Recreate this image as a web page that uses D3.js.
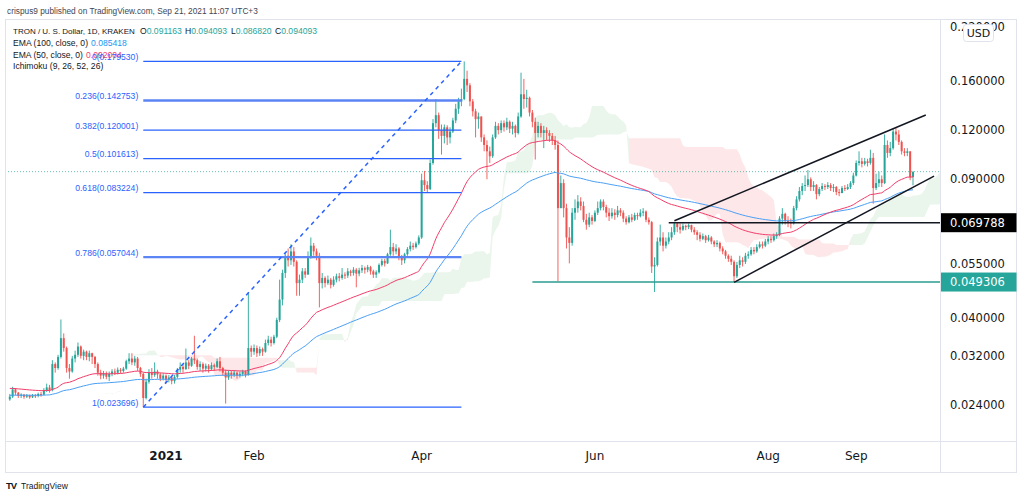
<!DOCTYPE html>
<html>
<head>
<meta charset="utf-8">
<script src="https://cdn.jsdelivr.net/npm/d3@7"></script>
<style>
  body { margin: 0; background: #fff; }
  svg { display: block; font-family: "Liberation Sans", Arial, sans-serif; }
</style>
</head>
<body>
<svg id="chart" width="1024" height="497"></svg>
<script>
// TRX/USD daily candles, Kraken, 7 Nov 2020 -> 21 Sep 2021
const startDay = Date.UTC(2020, 10, 7);
const firstOpen = 0.0248;

const closes = [
  .0252,.0263,.0258,.0253,.0255,.0252,.0254,.0251,.0254,.0253,
  .0256,.0255,.0262,.0266,.0262,.0305,.0298,.0318,.0355,.0335,
  .0298,.0292,.0315,.0322,.0338,.0320,.0328,.0318,.0325,.0318,
  .0305,.0290,.0285,.0289,.0283,.0288,.0292,.0290,.0295,.0293,
  .0297,.0310,.0315,.0308,.0315,.0298,.0288,.0250,.0275,.0290,
  .0286,.0292,.0287,.0280,.0285,.0278,.0282,.0276,.0283,.0295,
  .0300,.0296,.0308,.0302,.0315,.0312,.0300,.0305,.0297,.0302,
  .0296,.0303,.0300,.0310,.0298,.0290,.0282,.0290,.0286,.0290,
  .0285,.0288,.0292,.0286,.0335,.0328,.0335,.0325,.0333,.0328,
  .0345,.0352,.0345,.0358,.0395,.0445,.0520,.0575,.0560,.0590,
  .0555,.0490,.0500,.0525,.0515,.0570,.0610,.0590,.0575,.0490,
  .0505,.0490,.0500,.0485,.0500,.0510,.0505,.0515,.0512,.0525,
  .0520,.0530,.0518,.0528,.0535,.0530,.0538,.0525,.0515,.0522,
  .0545,.0558,.0550,.0580,.0605,.0590,.0600,.0570,.0560,.0580,
  .0598,.0610,.0605,.0618,.0640,.0895,.0870,.0850,.0990,.1250,
  .1310,.1200,.1160,.1220,.1150,.1190,.1270,.1360,.1420,.1440,
  .1620,.1560,.1420,.1340,.1280,.1300,.1150,.1100,.1060,.1030,
  .1150,.1230,.1200,.1250,.1220,.1260,.1210,.1230,.1180,.1300,
  .1480,.1440,.1450,.1330,.1260,.1180,.1230,.1180,.1200,.1180,
  .1160,.1130,.1100,.0760,.0880,.0760,.0640,.0620,.0740,.0760,
  .0790,.0770,.0710,.0690,.0720,.0705,.0740,.0760,.0790,.0765,
  .0740,.0725,.0740,.0730,.0750,.0740,.0715,.0700,.0720,.0710,
  .0730,.0725,.0740,.0745,.0710,.0700,.0540,.0545,.0625,.0640,
  .0610,.0625,.0640,.0660,.0695,.0680,.0670,.0685,.0680,.0688,
  .0670,.0660,.0650,.0635,.0645,.0630,.0640,.0625,.0615,.0620,
  .0600,.0590,.0575,.0565,.0555,.0510,.0545,.0560,.0555,.0575,
  .0580,.0595,.0590,.0605,.0615,.0610,.0625,.0635,.0630,.0645,
  .0650,.0715,.0735,.0705,.0700,.0695,.0760,.0800,.0840,.0865,
  .0870,.0900,.0860,.0870,.0825,.0850,.0865,.0860,.0870,.0855,
  .0860,.0835,.0830,.0855,.0850,.0860,.0880,.0920,.0990,.1000,
  .0985,.1000,.0990,.1020,.0855,.0880,.0900,.0880,.1100,.1050,
  .1080,.1190,.1170,.1120,.1060,.1050,.1060,.091163,.094093
];

const highs = [
  .0256,.0267,.0265,.0259,.0257,.0256,.0256,.0255,.0256,.0256,
  .0258,.0259,.0265,.0272,.0270,.0312,.0308,.0322,.0396,.0365,
  .0338,.0305,.0320,.0330,.0346,.0340,.0332,.0330,.0330,.0326,
  .0320,.0308,.0295,.0293,.0292,.0292,.0296,.0297,.0299,.0298,
  .0300,.0313,.0325,.0325,.0320,.0318,.0300,.0290,.0280,.0296,
  .0298,.0308,.0295,.0290,.0289,.0287,.0286,.0284,.0286,.0298,
  .0308,.0305,.0334,.0312,.0318,.0360,.0315,.0310,.0308,.0306,
  .0305,.0308,.0306,.0315,.0318,.0300,.0295,.0294,.0293,.0294,
  .0292,.0292,.0295,.0294,.0465,.0340,.0342,.0340,.0338,.0336,
  .0352,.0360,.0358,.0362,.0400,.0500,.0530,.0585,.0600,.0615,
  .0605,.0560,.0515,.0535,.0535,.0590,.0640,.0620,.0600,.0585,
  .0520,.0510,.0512,.0505,.0510,.0518,.0520,.0535,.0522,.0535,
  .0530,.0538,.0535,.0536,.0545,.0540,.0545,.0542,.0530,.0528,
  .0550,.0565,.0565,.0585,.0670,.0620,.0615,.0605,.0578,.0585,
  .0605,.0625,.0620,.0625,.0648,.0930,.0945,.0890,.1010,.1280,
  .1440,.1330,.1240,.1240,.1235,.1220,.1290,.1400,.1450,.1530,
  .1795,.1700,.1580,.1440,.1360,.1330,.1300,.1170,.1130,.1090,
  .1170,.1260,.1250,.1270,.1270,.1290,.1270,.1260,.1240,.1330,
  .1680,.1620,.1520,.1460,.1350,.1290,.1260,.1250,.1230,.1220,
  .1200,.1180,.1160,.1130,.0920,.0900,.0780,.0680,.0760,.0800,
  .0820,.0810,.0790,.0735,.0740,.0730,.0750,.0790,.0800,.0800,
  .0775,.0760,.0760,.0755,.0770,.0760,.0750,.0725,.0730,.0735,
  .0740,.0740,.0755,.0760,.0750,.0720,.0705,.0570,.0640,.0690,
  .0660,.0640,.0660,.0680,.0698,.0698,.0695,.0695,.0690,.0695,
  .0690,.0680,.0668,.0660,.0655,.0650,.0650,.0645,.0630,.0630,
  .0625,.0608,.0595,.0580,.0575,.0560,.0555,.0575,.0570,.0585,
  .0590,.0605,.0605,.0615,.0625,.0625,.0635,.0645,.0645,.0655,
  .0660,.0725,.0760,.0740,.0725,.0715,.0770,.0815,.0860,.0880,
  .0920,.0950,.0910,.0890,.0875,.0860,.0880,.0875,.0885,.0880,
  .0875,.0865,.0850,.0865,.0870,.0875,.0890,.0935,.1005,.1060,
  .1020,.1020,.1015,.1070,.1050,.0930,.0940,.0920,.1170,.1130,
  .1120,.1210,.1215,.1200,.1130,.1080,.1080,.1060,.094093
];

const lows = [
  .0246,.0250,.0254,.0250,.0250,.0249,.0250,.0249,.0250,.0250,
  .0251,.0252,.0254,.0259,.0258,.0260,.0290,.0295,.0315,.0328,
  .0290,.0280,.0290,.0308,.0318,.0315,.0312,.0312,.0310,.0305,
  .0298,.0285,.0279,.0280,.0279,.0276,.0284,.0286,.0287,.0289,
  .0290,.0295,.0305,.0303,.0302,.0293,.0283,.0237,.0248,.0272,
  .0280,.0283,.0280,.0276,.0277,.0272,.0274,.0271,.0272,.0280,
  .0290,.0290,.0295,.0296,.0300,.0305,.0295,.0293,.0290,.0292,
  .0290,.0293,.0293,.0298,.0292,.0285,.0242,.0278,.0280,.0283,
  .0280,.0282,.0284,.0282,.0285,.0318,.0322,.0318,.0320,.0320,
  .0326,.0340,.0338,.0342,.0355,.0390,.0430,.0505,.0540,.0545,
  .0540,.0455,.0455,.0490,.0505,.0515,.0565,.0575,.0560,.0425,
  .0475,.0478,.0485,.0475,.0480,.0492,.0495,.0500,.0502,.0505,
  .0510,.0512,.0478,.0510,.0520,.0518,.0522,.0515,.0505,.0505,
  .0518,.0540,.0540,.0548,.0575,.0575,.0580,.0560,.0545,.0550,
  .0575,.0590,.0595,.0600,.0612,.0635,.0840,.0830,.0845,.0980,
  .1220,.1140,.1040,.1110,.1100,.1110,.1180,.1250,.1320,.1380,
  .1430,.1500,.1380,.1300,.1150,.1210,.1120,.1060,.0900,.0990,
  .1020,.1140,.1170,.1180,.1190,.1200,.1180,.1170,.1150,.1170,
  .1290,.1360,.1370,.1300,.1220,.1010,.1150,.1150,.1080,.1130,
  .1120,.1100,.1070,.0495,.0760,.0720,.0600,.0550,.0610,.0710,
  .0740,.0750,.0700,.0670,.0680,.0690,.0700,.0730,.0750,.0750,
  .0720,.0705,.0715,.0710,.0720,.0725,.0700,.0690,.0695,.0700,
  .0705,.0710,.0720,.0725,.0700,.0690,.0520,.0465,.0540,.0610,
  .0590,.0600,.0615,.0630,.0650,.0660,.0655,.0665,.0668,.0672,
  .0660,.0650,.0630,.0625,.0630,.0620,.0625,.0615,.0605,.0605,
  .0590,.0580,.0565,.0555,.0545,.0493,.0505,.0535,.0540,.0548,
  .0565,.0575,.0580,.0585,.0600,.0600,.0605,.0615,.0620,.0625,
  .0635,.0645,.0690,.0690,.0680,.0675,.0690,.0750,.0790,.0820,
  .0840,.0860,.0840,.0840,.0800,.0815,.0840,.0845,.0850,.0840,
  .0835,.0820,.0815,.0830,.0840,.0845,.0850,.0870,.0915,.0975,
  .0965,.0975,.0970,.0980,.0780,.0845,.0860,.0860,.0875,.1020,
  .1030,.1070,.1130,.1100,.1040,.1030,.1030,.0895,.086820
];

// EMA starting values at the left edge
const ema50Start = 0.0265;
const ema100Start = 0.0254;

// Fibonacci retracement drawn on the chart
const fibRatios = ["0", "0.236", "0.382", "0.5", "0.618", "0.786", "1"];
const fibPrices = [0.179530, 0.142753, 0.120001, 0.101613, 0.083224, 0.057044, 0.023696];
const fibFrom = Date.UTC(2020, 11, 24);
const fibTo = Date.UTC(2021, 3, 15);

// other drawings: [startDate, price]
const supportLevel = [Date.UTC(2021, 4, 10), 0.049306];
const resistLevel = [Date.UTC(2021, 5, 27), 0.069788];
const channelTop = [[Date.UTC(2021, 5, 29), 0.0706], [Date.UTC(2021, 8, 25, 12), 0.1311]];
const channelBottom = [[Date.UTC(2021, 6, 20), 0.04923], [Date.UTC(2021, 8, 28, 10), 0.0917]];

const priceTicks = [0.024, 0.032, 0.040, 0.055, 0.090, 0.120, 0.160, 0.220];
const monthTicks = [
  [Date.UTC(2021, 0, 1), "2021"], [Date.UTC(2021, 1, 1), "Feb"], [Date.UTC(2021, 3, 1), "Apr"],
  [Date.UTC(2021, 5, 1), "Jun"], [Date.UTC(2021, 7, 1), "Aug"], [Date.UTC(2021, 8, 1), "Sep"]
];

const legendOHLC = ["0.091163", "0.094093", "0.086820", "0.094093"];
const legendEma100 = "0.085418";
const legendEma50 = "0.092004";

// ---- layout ----
const DAY = 864e5;
const pane = { left: 5, right: 940, top: 19, bottom: 441, axisRight: 1016, axisBottom: 472 };
const UP = "#26a69a", DOWN = "#ef5350", FIB = "#2962ff";

const svg = d3.select("#chart");

const x = d3.scaleUtc()
  .domain([new Date(Date.UTC(2021, 0, 1)), new Date(Date.UTC(2021, 8, 21))])
  .range([166, 913]);
const y = d3.scaleLog().domain([0.024, 0.16]).range([405, 81]);

const N = closes.length;
const dates = d3.range(N).map(i => new Date(startDay + i * DAY));
const opens = closes.map((c, i) => i === 0 ? firstOpen : closes[i - 1]);
opens[N - 1] = +legendOHLC[0];

// shrink a text so it is no wider than maxW
function fitWidth(sel, maxW) {
  const w = sel.node().getComputedTextLength();
  if (w > maxW) sel.attr("font-size", parseFloat(sel.attr("font-size")) * maxW / w);
  return sel;
}

// caption
fitWidth(svg.append("text").attr("x", 7).attr("y", 14)
  .attr("font-size", 8.6).attr("fill", "#434651")
  .text("crispus9 published on TradingView.com, Sep 21, 2021 11:07 UTC+3"), 251);

// pane frame
svg.append("rect")
  .attr("x", pane.left + 0.5).attr("y", pane.top + 0.5)
  .attr("width", pane.axisRight - pane.left).attr("height", pane.axisBottom - pane.top)
  .attr("fill", "#fff").attr("stroke", "#e0e3eb");
svg.append("line").attr("x1", pane.right + 0.5).attr("x2", pane.right + 0.5)
  .attr("y1", pane.top).attr("y2", pane.axisBottom).attr("stroke", "#e0e3eb");
svg.append("line").attr("x1", pane.left).attr("x2", pane.axisRight)
  .attr("y1", pane.bottom + 0.5).attr("y2", pane.bottom + 0.5).attr("stroke", "#e0e3eb");

svg.append("clipPath").attr("id", "plotClip").append("rect")
  .attr("x", pane.left + 1).attr("y", pane.top + 1)
  .attr("width", pane.right - pane.left - 1).attr("height", pane.bottom - pane.top - 1);

const plot = svg.append("g").attr("clip-path", "url(#plotClip)");

// ---- Ichimoku cloud (9, 26, 52, 26) ----
function midRange(i, n) {
  const s = Math.max(0, i - n + 1);
  return (d3.max(highs.slice(s, i + 1)) + d3.min(lows.slice(s, i + 1))) / 2;
}
const shift = 25;
const cloud = d3.range(N).map(i => {
  const tenkan = midRange(i, 9), kijun = midRange(i, 26);
  return { date: new Date(startDay + (i + shift) * DAY), a: (tenkan + kijun) / 2, b: midRange(i, 52) };
});
// split into runs of the same colour
const runs = [];
let run = [cloud[0]];
for (let i = 1; i < cloud.length; i++) {
  const up = cloud[i - 1].a >= cloud[i - 1].b;
  const upNow = cloud[i].a >= cloud[i].b;
  run.push(cloud[i]);
  if (up !== upNow) {
    runs.push({ up, pts: run });
    run = [cloud[i]];
  }
}
runs.push({ up: run[0].a >= run[0].b, pts: run });

const cloudArea = d3.area()
  .x(d => x(d.date)).y0(d => y(d.a)).y1(d => y(d.b));
plot.append("g").selectAll("path").data(runs).join("path")
  .attr("d", r => cloudArea(r.pts))
  .attr("fill", r => r.up ? "rgba(67,160,71,0.11)" : "rgba(242,54,69,0.12)");

// current price dotted line
plot.append("line")
  .attr("x1", pane.left).attr("x2", pane.right)
  .attr("y1", y(closes[N - 1])).attr("y2", y(closes[N - 1]))
  .attr("stroke", UP).attr("stroke-opacity", 0.7)
  .attr("stroke-width", 1).attr("stroke-dasharray", "1,2");

// ---- candles ----
const candles = plot.append("g").selectAll("g").data(d3.range(N)).join("g")
  .attr("fill", i => closes[i] >= opens[i] ? UP : DOWN)
  .attr("stroke", i => closes[i] >= opens[i] ? UP : DOWN);
candles.append("line")
  .attr("x1", i => x(dates[i])).attr("x2", i => x(dates[i]))
  .attr("y1", i => y(Math.max(highs[i], opens[i], closes[i])))
  .attr("y2", i => y(Math.min(lows[i], opens[i], closes[i])))
  .attr("stroke-width", 0.9);
candles.append("rect")
  .attr("stroke", "none")
  .attr("x", i => x(dates[i]) - 1)
  .attr("width", 2)
  .attr("y", i => Math.min(y(opens[i]), y(closes[i])))
  .attr("height", i => Math.max(1, Math.abs(y(opens[i]) - y(closes[i]))));

// ---- EMAs ----
function ema(n, seed) {
  const k = 2 / (n + 1);
  const out = [];
  let e = seed;
  closes.forEach(c => { e = e + k * (c - e); out.push(e); });
  return out;
}
const ema50 = ema(50, ema50Start);
const ema100 = ema(100, ema100Start);
const emaLine = d3.line().x((d, i) => x(dates[i])).y(d => y(d)).curve(d3.curveMonotoneX);
plot.append("path").attr("d", emaLine(ema100))
  .attr("fill", "none").attr("stroke", "#4a9ff5").attr("stroke-width", 1);
plot.append("path").attr("d", emaLine(ema50))
  .attr("fill", "none").attr("stroke", "#f23d6a").attr("stroke-width", 1);

// ---- Fibonacci retracement ----
const fx1 = x(new Date(fibFrom)), fx2 = x(new Date(fibTo));
const fib = plot.append("g");
fib.selectAll("line").data(fibPrices).join("line")
  .attr("x1", fx1).attr("x2", fx2)
  .attr("y1", d => y(d)).attr("y2", d => y(d))
  .attr("stroke", (d, i) => (i === 1 || i === 5) ? "#5b84f5" : FIB)
  .attr("stroke-width", (d, i) => (i === 1 || i === 5) ? 2.4 : 1.2);
fib.append("line")
  .attr("x1", fx1).attr("y1", y(fibPrices[6]))
  .attr("x2", fx2).attr("y2", y(fibPrices[0]))
  .attr("stroke", FIB).attr("stroke-width", 1.5).attr("stroke-dasharray", "4,4");
fib.selectAll("text").data(fibPrices.slice(1)).join("text")
  .attr("x", fx1 - 5).attr("y", d => y(d) - 1.5)
  .attr("text-anchor", "end").attr("font-size", 8.6).attr("fill", FIB)
  .text((d, i) => `${fibRatios[i + 1]}(${d.toFixed(6)})`);

// ---- horizontal levels and channel ----
plot.append("line")
  .attr("x1", x(new Date(supportLevel[0]))).attr("x2", pane.right)
  .attr("y1", y(supportLevel[1])).attr("y2", y(supportLevel[1]))
  .attr("stroke", "#2a9d8f").attr("stroke-width", 1.5);
plot.append("line")
  .attr("x1", x(new Date(resistLevel[0]))).attr("x2", pane.right)
  .attr("y1", y(resistLevel[1])).attr("y2", y(resistLevel[1]))
  .attr("stroke", "#131722").attr("stroke-width", 1.5);
[channelTop, channelBottom].forEach(seg => {
  plot.append("line")
    .attr("x1", x(new Date(seg[0][0]))).attr("y1", y(seg[0][1]))
    .attr("x2", x(new Date(seg[1][0]))).attr("y2", y(seg[1][1]))
    .attr("stroke", "#131722").attr("stroke-width", 1.5);
});

// ---- legend ----
const legend = svg.append("g").attr("fill", "#131722");
fitWidth(legend.append("text").attr("x", 13).attr("y", 33.5).attr("font-size", 8.6)
  .text("TRON / U. S. Dollar, 1D, KRAKEN"), 122);
["O", "H", "L", "C"].forEach((k, i) => {
  const t = legend.append("text").attr("x", [140, 185, 231, 275][i]).attr("y", 33.5).attr("font-size", 8.6);
  t.append("tspan").text(k);
  t.append("tspan").attr("fill", UP).text(legendOHLC[i]);
  fitWidth(t, 42);
});
fitWidth(legend.append("text").attr("x", 13).attr("y", 45.5).attr("font-size", 8.6)
  .text("EMA (100, close, 0)"), 75);
legend.append("text").attr("x", 91).attr("y", 45.5).attr("font-size", 8.6)
  .attr("fill", "#2196f3").text(legendEma100);
fitWidth(legend.append("text").attr("x", 13).attr("y", 57.5).attr("font-size", 8.6)
  .text("EMA (50, close, 0)"), 70);
legend.append("text").attr("x", 86).attr("y", 57.5).attr("font-size", 8.6)
  .attr("fill", "#f23d6a").text(legendEma50);
legend.append("text").attr("x", 13).attr("y", 69).attr("font-size", 8.6)
  .text("Ichimoku (9, 26, 52, 26)");
// the 0-level fib label is drawn over the EMA 50 legend row, as on the original chart
svg.append("text").attr("x", fx1 - 5).attr("y", y(fibPrices[0]) - 1.5)
  .attr("text-anchor", "end").attr("font-size", 8.6).attr("fill", FIB)
  .text(`${fibRatios[0]}(${fibPrices[0].toFixed(6)})`);

// ---- price axis ----
const axisFont = "'DejaVu Sans', sans-serif";
svg.append("g").selectAll("text").data(priceTicks).join("text")
  .attr("x", 950).attr("y", d => y(d)).attr("dy", "0.36em")
  .attr("font-family", axisFont).attr("font-size", 11.5).attr("fill", "#131722")
  .text(d => d.toFixed(6));

function priceTag(price, bg) {
  svg.append("rect").attr("x", pane.right + 1).attr("y", y(price) - 9.5)
    .attr("width", pane.axisRight - pane.right - 0.5).attr("height", 19).attr("fill", bg);
  svg.append("text").attr("x", 950).attr("y", y(price)).attr("dy", "0.36em")
    .attr("font-family", axisFont).attr("font-size", 11.5).attr("fill", "#fff")
    .text(price.toFixed(6));
}
priceTag(resistLevel[1], "#000");
priceTag(supportLevel[1], "#26a69a");

svg.append("rect").attr("x", 963.5).attr("y", 24.5).attr("width", 30).attr("height", 17).attr("rx", 3)
  .attr("fill", "#fff").attr("stroke", "#e0e3eb");
svg.append("text").attr("x", 978.5).attr("y", 33).attr("dy", "0.36em").attr("text-anchor", "middle")
  .attr("font-family", axisFont).attr("font-size", 11).attr("fill", "#131722").text("USD");

// ---- time axis ----
svg.append("g").selectAll("text").data(monthTicks).join("text")
  .attr("x", d => x(new Date(d[0]))).attr("y", 456).attr("dy", "0.36em")
  .attr("text-anchor", "middle").attr("font-family", axisFont).attr("font-size", 12)
  .attr("font-weight", d => d[1] === "2021" ? "bold" : "normal")
  .attr("fill", "#131722").text(d => d[1]);

// ---- footer logo ----
svg.append("text").attr("x", 6).attr("y", 489).attr("font-size", 9.5).attr("font-weight", "bold")
  .attr("letter-spacing", -1).attr("fill", "#131722").text("TV");
svg.append("text").attr("x", 21).attr("y", 489).attr("font-size", 8.5).attr("fill", "#131722")
  .text("TradingView");
</script>
</body>
</html>
